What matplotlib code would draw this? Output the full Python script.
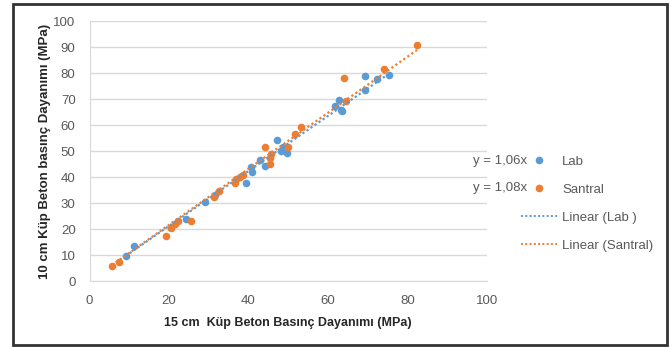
import numpy as np
import matplotlib.pyplot as plt
from matplotlib.patches import Rectangle
from matplotlib.lines import Line2D

plt.rcParams['font.family'] = ['Liberation Sans', 'DejaVu Sans']

# Lab samples (15 cm cube vs 10 cm cube strength, MPa)
lab_x = [9.1, 11.2, 24.3, 29.0, 31.6, 39.4, 40.6, 41.0, 43.0, 44.2, 47.1, 48.3,
         48.8, 49.6, 61.8, 62.7, 63.2, 63.5, 69.2, 69.4, 72.4, 75.3]
lab_y = [9.6, 13.5, 23.9, 30.3, 33.3, 37.6, 43.8, 42.0, 46.6, 44.4, 54.4, 50.2,
         51.7, 49.2, 67.4, 69.8, 65.9, 65.4, 73.7, 78.8, 77.7, 79.3]

# Santral samples
santral_x = [5.6, 7.3, 19.2, 20.6, 21.5, 22.2, 25.5, 31.3, 32.7, 36.7, 36.9, 37.9,
             38.7, 44.2, 45.4, 45.7, 45.3, 49.9, 51.8, 53.3, 64.0, 64.6, 74.2, 82.4]
santral_y = [5.8, 7.4, 17.3, 20.3, 22.0, 23.1, 23.0, 32.5, 34.5, 37.6, 39.3, 40.1,
             41.0, 51.5, 45.2, 48.8, 47.5, 51.5, 56.6, 59.2, 78.1, 69.5, 81.5, 91.0]

# trendline slopes (through origin), as shown on the chart
lab_slope = 1.06
santral_slope = 1.08

blue = '#5B9BD5'
orange = '#ED7D31'
grid = '#D9D9D9'
text_col = '#595959'
fs = 9.5

fig = plt.figure(figsize=(6.71, 3.47), dpi=100)
ax = fig.add_axes([89.5 / 671, 66 / 347, 397.5 / 671, 259.6 / 347])

# Scatter points
ax.scatter(lab_x, lab_y, s=30, color=blue, zorder=3, linewidths=0)
ax.scatter(santral_x, santral_y, s=30, color=orange, zorder=3, linewidths=0)

# Linear trendlines through origin
lx = np.array([min(lab_x), max(lab_x)])
sx = np.array([min(santral_x), max(santral_x)])
ax.plot(lx, lab_slope * lx, color=blue, lw=1.6, ls=(0, (1, 1.2)), zorder=4)
ax.plot(sx, santral_slope * sx, color=orange, lw=1.6, ls=(0, (1, 1.2)), zorder=4)

# Axes styling
ax.set_xlim(0, 100)
ax.set_ylim(0, 100)
ax.set_xticks(np.arange(0, 101, 20))
ax.set_yticks(np.arange(0, 101, 10))
ax.grid(axis='y', color=grid, lw=1)
ax.set_axisbelow(True)
for side in ['top', 'right']:
    ax.spines[side].set_visible(False)
ax.spines['left'].set_color(grid)
ax.spines['bottom'].set_color(grid)
ax.tick_params(length=0, labelsize=fs, labelcolor=text_col)
ax.tick_params(axis='y', pad=10)
ax.tick_params(axis='x', pad=10)

ax.set_xlabel('15 cm  Küp Beton Basınç Dayanımı (MPa)', fontsize=9,
              fontweight='bold', color='#262626', labelpad=7)
ax.set_ylabel('10 cm Küp Beton basınç Dayanımı (MPa)', fontsize=fs,
              fontweight='bold', color='#262626', labelpad=2)

# Legend on the right
handles = [
    Line2D([], [], marker='o', ls='none', color=blue, markersize=5.5, markeredgewidth=0),
    Line2D([], [], marker='o', ls='none', color=orange, markersize=5.5, markeredgewidth=0),
    Line2D([], [], color=blue, lw=1.4, ls=(0, (1, 1.2))),
    Line2D([], [], color=orange, lw=1.4, ls=(0, (1, 1.2))),
]
labels = ['Lab', 'Santral', 'Linear (Lab )', 'Linear (Santral)']
fig.legend(handles, labels, loc='upper left', bbox_to_anchor=(516 / 671, 1 - 150 / 347),
           frameon=False, fontsize=fs, handlelength=2.7, handletextpad=0.4,
           labelspacing=1.2, labelcolor=text_col, borderaxespad=0)

# Trendline equations
fig.text(473 / 671, 1 - 161 / 347, 'y = 1,06x', fontsize=fs, color=text_col, va='center')
fig.text(473 / 671, 1 - 188 / 347, 'y = 1,08x', fontsize=fs, color=text_col, va='center')

# Outer chart frame
fig.patches.append(Rectangle((13 / 671, 2 / 347), 654 / 671, 341 / 347,
                             transform=fig.transFigure, fill=False,
                             edgecolor='#333333', lw=2))

fig.savefig('out.png', dpi=100)
